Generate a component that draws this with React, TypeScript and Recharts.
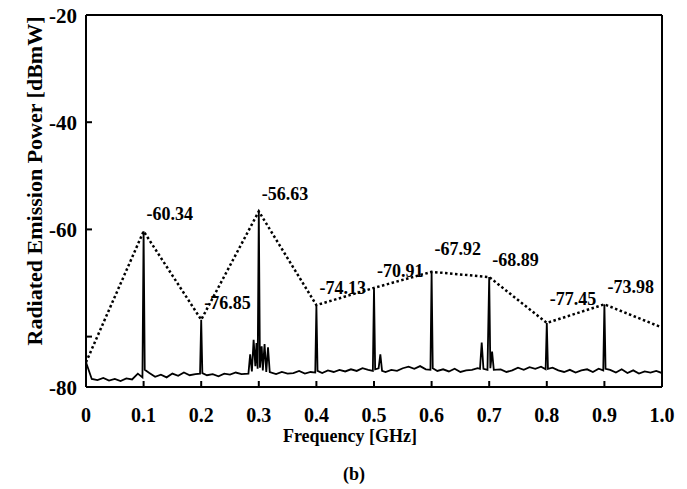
import { LineChart, Line, XAxis, YAxis, LabelList } from 'recharts'

// noise floor sampled every 0.01 GHz (0 .. 1.0)
const noisePower = [
  -84.8, -87.9, -88.1, -87.7, -88.2, -87.9, -88.3, -87.8, -88.0, -86.9,
  -87.6, -86.8, -87.5, -87.1, -87.6, -86.9, -87.3, -86.7, -87.2, -87.0,
  -86.6, -87.2, -87.0, -87.4, -86.9, -87.1, -86.7, -87.0, -86.5, -86.4,
  -86.8, -86.5, -86.7, -87.0, -86.6, -86.9, -86.8, -86.4, -86.9, -86.6,
  -86.5, -86.8, -86.3, -86.6, -86.2, -86.5, -86.1, -86.4, -85.9, -86.2,
  -86.3, -86.4, -86.6, -86.2, -86.4, -85.9, -85.6, -86.0, -85.5, -86.1,
  -86.0, -86.4, -86.1, -86.5, -86.0, -86.6, -86.3, -86.2, -85.9, -86.1,
  -86.2, -86.5, -86.1, -86.6, -86.3, -85.8, -86.2, -85.7, -86.0, -85.6,
  -86.2, -85.8, -86.3, -86.6, -86.2, -86.7, -86.3, -86.1, -86.6, -86.0,
  -86.4, -86.2, -86.7, -86.1, -86.8, -86.3, -86.9, -86.5, -86.7, -86.4,
  -86.8,
]

// harmonic spikes and side spurs [GHz, dBmW]
const spikes: [number, number][] = [
  [0.098, -87.6], [0.1, -60.34], [0.102, -86.2],
  [0.198, -86.9], [0.2, -76.85], [0.202, -86.8],
  [0.282, -86.9], [0.285, -83.3], [0.288, -86.5], [0.291, -80.6], [0.294, -85.5],
  [0.296, -81.2], [0.298, -86.0], [0.3, -56.63], [0.302, -85.8], [0.305, -81.8],
  [0.307, -86.3], [0.31, -81.4], [0.313, -86.6], [0.316, -82.0], [0.319, -86.6],
  [0.398, -86.7], [0.4, -74.13], [0.402, -86.4],
  [0.498, -86.4], [0.5, -70.91], [0.502, -86.1], [0.508, -85.9], [0.511, -83.3], [0.514, -86.4],
  [0.598, -86.2], [0.6, -67.92], [0.602, -85.9],
  [0.684, -86.0], [0.687, -81.1], [0.69, -86.0], [0.697, -86.2], [0.7, -68.89],
  [0.702, -85.9], [0.705, -82.8], [0.708, -86.2],
  [0.798, -86.1], [0.8, -77.45], [0.802, -86.0],
  [0.898, -86.3], [0.9, -73.98], [0.902, -86.0],
]

// dotted envelope through the peaks
const envFreq = [0, 0.1, 0.2, 0.3, 0.4, 0.5, 0.6, 0.7, 0.8, 0.9, 1.0]
const envPower = [-84.8, -60.34, -76.85, -56.63, -74.13, -70.91, -67.92, -68.89, -77.45, -73.98, -78.3]

const xTicks = [0, 0.1, 0.2, 0.3, 0.4, 0.5, 0.6, 0.7, 0.8, 0.9, 1.0]
const Y_MIN = -89.4
const yTicks = [Y_MIN, -80, -60, -40, -20]

const spectrum = [
  ...noisePower
    .map((p, i) => ({ f: i / 100, p }))
    .filter((d) => !spikes.some(([f]) => Math.abs(f - d.f) < 0.0035)),
  ...spikes.map(([f, p]) => ({ f, p })),
].sort((a, b) => a.f - b.f)

const envelope = envFreq.map((f, i) => ({ f, p: envPower[i] }))

const FONT = '"Liberation Serif", "Times New Roman", serif'
const textStyle = { fontFamily: FONT, fontWeight: 700, fontSize: 18, fill: '#000' }
const TICK_LEN = 6
const X_MARGIN = 19
const Y_MARGIN = 9

const formatX = (v: number) => (v === 0 ? '0' : v.toFixed(1))
// the original figure prints "-80" at the bottom edge, not at the -80 tick
const formatY = (v: number) => (v <= Y_MIN ? '-80' : v === -80 ? '' : String(v))

// inward tick marks, drawn by hand
const BottomTick = (props: any) => {
  const { x, y, payload } = props
  const ay = y - X_MARGIN
  return (
    <g>
      <path d={`M${x},${ay}V${ay - TICK_LEN}`} stroke="#000" strokeWidth={2} fill="none" />
      <text x={x} y={y} dy="0.8em" textAnchor="middle" style={{ ...textStyle, fontSize: 20 }}>
        {formatX(payload.value)}
      </text>
    </g>
  )
}

const TopTick = (props: any) => {
  const { x, y } = props
  return <path d={`M${x},${y}V${y + TICK_LEN}`} stroke="#000" strokeWidth={2} fill="none" />
}

const LeftTick = (props: any) => {
  const { x, y, payload } = props
  const ax = x + Y_MARGIN
  const showMark = payload.value > Y_MIN
  return (
    <g>
      {showMark && <path d={`M${ax},${y}H${ax + TICK_LEN}`} stroke="#000" strokeWidth={2} fill="none" />}
      <text x={x} y={y} dy="0.36em" textAnchor="end" style={{ ...textStyle, fontSize: 21 }}>
        {formatY(payload.value)}
      </text>
    </g>
  )
}

const RightTick = (props: any) => {
  const { x, y, payload } = props
  if (payload.value <= Y_MIN) return <g />
  return <path d={`M${x},${y}H${x - TICK_LEN}`} stroke="#000" strokeWidth={2} fill="none" />
}

const PeakLabel = (props: any) => {
  const { x, y, value, index } = props
  if (index === 0 || index === envFreq.length - 1) return null
  const dy = index === 6 ? -17 : index === 8 ? -18 : -11
  return (
    <text x={x + 3} y={y + dy} style={textStyle}>
      {Number(value).toFixed(2)}
    </text>
  )
}

const XTitle = (props: any) => {
  const { x, y, width } = props.viewBox
  const cx = x + width / 2 - 24
  return (
    <g>
      <text x={cx} y={y + 55} textAnchor="middle" style={textStyle}>
        Frequency [GHz]
      </text>
      <text x={cx + 4} y={y + 93} textAnchor="middle" style={textStyle}>
        (b)
      </text>
    </g>
  )
}

const YTitle = (props: any) => {
  const { x, y } = props.viewBox
  const cx = x + 34
  const cy = y + 166
  return (
    <text
      x={cx}
      y={cy}
      textAnchor="middle"
      dominantBaseline="central"
      transform={`rotate(-90, ${cx}, ${cy})`}
      style={{ ...textStyle, fontSize: 22 }}
    >
      Radiated Emission Power [dBmW]
    </text>
  )
}

const axisLine = { stroke: '#000', strokeWidth: 2 }

export default function App() {
  return (
    <div style={{ position: 'absolute', left: 0, top: 0, background: '#fff' }}>
      <LineChart width={687} height={489} margin={{ top: 14, right: 24, bottom: 0, left: 0 }}>
        <XAxis
          xAxisId="b"
          dataKey="f"
          type="number"
          domain={[0, 1]}
          ticks={xTicks}
          height={102}
          tickSize={0}
          tickMargin={X_MARGIN}
          axisLine={axisLine}
          tickLine={false}
          tick={<BottomTick />}
          interval={0}
          allowDataOverflow
          label={<XTitle />}
        />
        <XAxis
          xAxisId="t"
          orientation="top"
          dataKey="f"
          type="number"
          domain={[0, 1]}
          ticks={xTicks}
          height={1}
          tickSize={0}
          tickMargin={0}
          axisLine={axisLine}
          tickLine={false}
          tick={<TopTick />}
          interval={0}
        />
        <YAxis
          yAxisId="l"
          type="number"
          domain={[Y_MIN, -20]}
          ticks={yTicks}
          width={86}
          tickSize={0}
          tickMargin={Y_MARGIN}
          axisLine={axisLine}
          tickLine={false}
          tick={<LeftTick />}
          interval={0}
          allowDataOverflow
          label={<YTitle />}
        />
        <YAxis
          yAxisId="r"
          orientation="right"
          type="number"
          domain={[Y_MIN, -20]}
          ticks={yTicks}
          width={1}
          tickSize={0}
          tickMargin={0}
          axisLine={axisLine}
          tickLine={false}
          tick={<RightTick />}
          interval={0}
        />
        <Line
          xAxisId="b"
          yAxisId="l"
          data={spectrum}
          dataKey="p"
          type="linear"
          stroke="#000"
          strokeWidth={1.8}
          dot={false}
          isAnimationActive={false}
        />
        <Line
          xAxisId="b"
          yAxisId="l"
          data={envelope}
          dataKey="p"
          type="linear"
          stroke="#000"
          strokeWidth={2.5}
          strokeDasharray="2.5 2.5"
          dot={false}
          isAnimationActive={false}
        >
          <LabelList dataKey="p" content={<PeakLabel />} />
        </Line>
      </LineChart>
    </div>
  )
}
